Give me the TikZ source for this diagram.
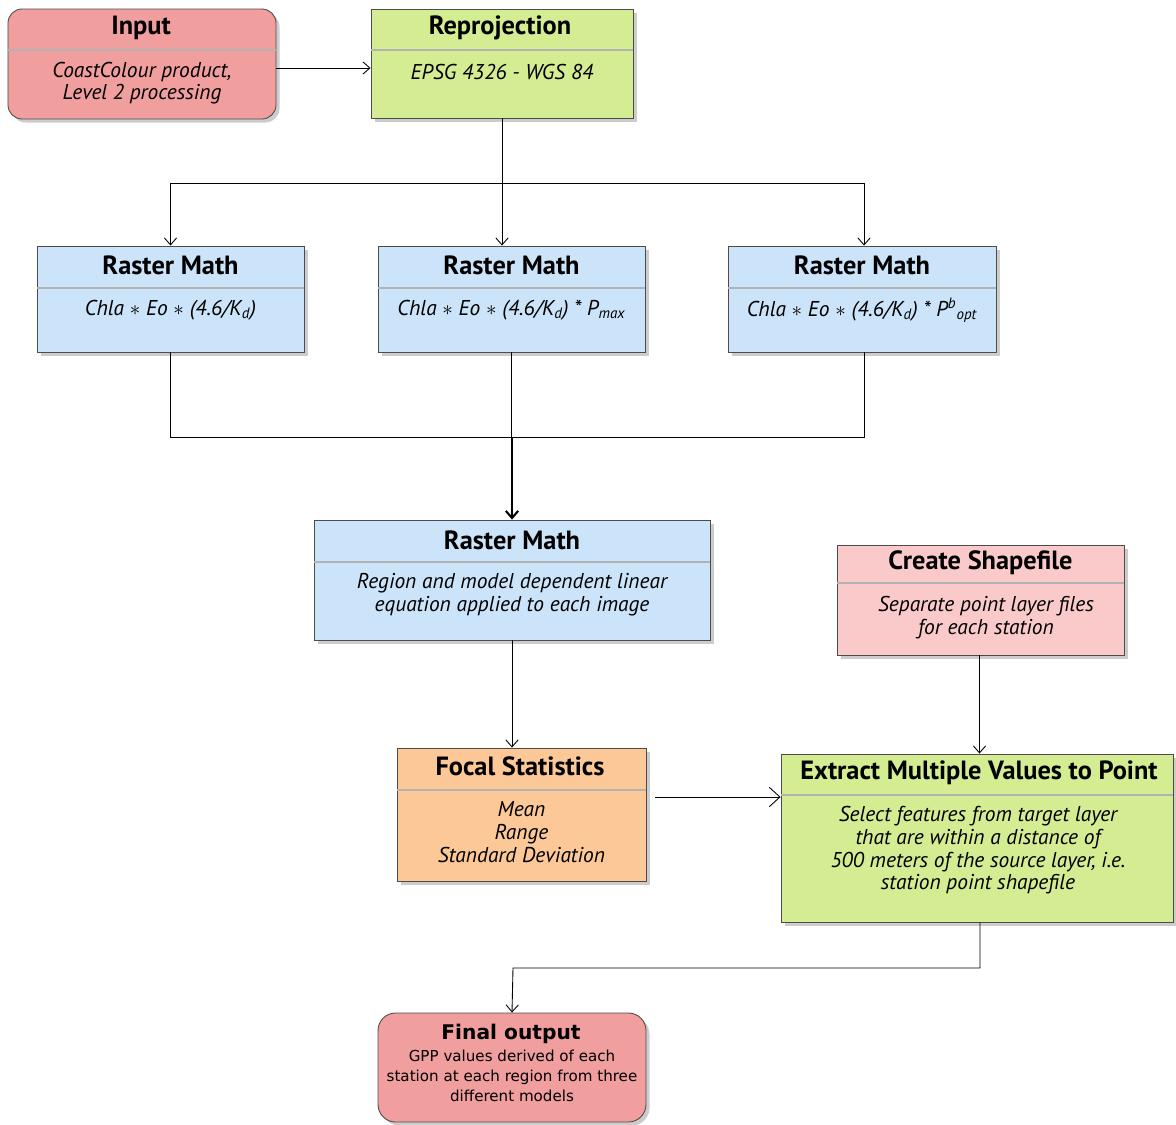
\documentclass[tikz,border=0pt]{standalone}
\usepackage{fontspec}
\setmainfont{PT Sans}
\newfontfamily\dejavu{DejaVu Sans}
\usetikzlibrary{shadows,arrows.meta}

\definecolor{inred}{RGB}{240,158,158}
\definecolor{repgreen}{RGB}{212,236,146}
\definecolor{mathblue}{RGB}{204,228,250}
\definecolor{shppink}{RGB}{250,202,202}
\definecolor{focorange}{RGB}{252,200,152}

\begin{document}
\begin{tikzpicture}[>={Straight Barb[length=4pt,width=7pt]}, line width=0.5pt,
    box/.style={draw=black!70, line width=0.5pt, inner sep=0pt,
        drop shadow={shadow xshift=0.07cm, shadow yshift=-0.07cm, fill=black!40}},
    heading/.style={font=\fontsize{15}{17}\selectfont\bfseries},
    body/.style={font=\fontsize{12.2}{12.9}\selectfont\itshape, align=center},
    sep/.style={draw=black!30, line width=0.6pt}]
    \useasboundingbox (0,0) rectangle (23.52,-22.48);

    % boxes
    \node[box, fill=inred, rounded corners=8pt, minimum width=5.36cm, minimum height=2.2cm] (input) at (2.84,-1.28) {};
    \node[box, fill=repgreen, minimum width=5.24cm, minimum height=2.18cm] (reproj) at (10.04,-1.27) {};
    \node[box, fill=mathblue, minimum width=5.34cm, minimum height=2.12cm] (rm1) at (3.41,-5.98) {};
    \node[box, fill=mathblue, minimum width=5.34cm, minimum height=2.12cm] (rm2) at (10.23,-5.98) {};
    \node[box, fill=mathblue, minimum width=5.36cm, minimum height=2.12cm] (rm3) at (17.24,-5.98) {};
    \node[box, fill=mathblue, minimum width=7.92cm, minimum height=2.4cm] (rm4) at (10.24,-11.6) {};
    \node[box, fill=shppink, minimum width=5.74cm, minimum height=2.2cm] (shape) at (19.61,-12.0) {};
    \node[box, fill=focorange, minimum width=4.98cm, minimum height=2.66cm] (focal) at (10.43,-16.29) {};
    \node[box, fill=repgreen, minimum width=7.84cm, minimum height=3.36cm] (extract) at (19.54,-16.76) {};
    \node[box, fill=inred, rounded corners=10pt, minimum width=5.36cm, minimum height=2.18cm] (final) at (10.24,-21.35) {};

    % header lines
    \draw[sep] (input.west |- 0,-1.0) -- (input.east |- 0,-1.0);
    \draw[sep] (reproj.west |- 0,-1.0) -- (reproj.east |- 0,-1.0);
    \draw[sep] (rm1.west |- 0,-5.76) -- (rm1.east |- 0,-5.76);
    \draw[sep] (rm2.west |- 0,-5.76) -- (rm2.east |- 0,-5.76);
    \draw[sep] (rm3.west |- 0,-5.76) -- (rm3.east |- 0,-5.76);
    \draw[sep] (rm4.west |- 0,-11.24) -- (rm4.east |- 0,-11.24);
    \draw[sep] (shape.west |- 0,-11.66) -- (shape.east |- 0,-11.66);
    \draw[sep] (focal.west |- 0,-15.8) -- (focal.east |- 0,-15.8);
    \draw[sep] (extract.west |- 0,-15.9) -- (extract.east |- 0,-15.9);

    % texts
    \node[heading] (input-t) at (2.82,-0.56) {Input};
    \node[body] (input-b) at (2.84,-1.66) {CoastColour product,\\Level 2 processing};
    \node[heading] (reproj-t) at (10.0,-0.56) {Reprojection};
    \node[body] (reproj-b) at (10.04,-1.44) {EPSG 4326 - WGS 84};
    \node[heading] (rm1-t) at (3.41,-5.3) {Raster Math};
    \node[body] (rm1-b) at (3.41,-6.2) {Chla $\ast$ Eo $\ast$ (4.6/K\textsubscript{d})};
    \node[heading] (rm2-t) at (10.23,-5.3) {Raster Math};
    \node[body] (rm2-b) at (10.23,-6.2) {Chla $\ast$ Eo $\ast$ (4.6/K\textsubscript{d}) * P\textsubscript{max}};
    \node[heading] (rm3-t) at (17.24,-5.3) {Raster Math};
    \node[body] (rm3-b) at (17.24,-6.2) {Chla $\ast$ Eo $\ast$ (4.6/K\textsubscript{d}) * P\textsuperscript{b}\textsubscript{opt}};
    \node[heading] (rm4-t) at (10.24,-10.8) {Raster Math};
    \node[body] (rm4-b) at (10.24,-11.9) {Region and model dependent linear\\equation applied to each image};
    \node[heading] (shape-t) at (19.61,-11.26) {Create Shapefile};
    \node[body] (shape-b) at (19.72,-12.35) {Separate point layer files\\for each station};
    \node[heading] (focal-t) at (10.4,-15.32) {Focal Statistics};
    \node[body] (focal-b) at (10.43,-16.64) {Mean\\Range\\Standard Deviation};
    \node[heading] (extract-t) at (19.58,-15.46) {Extract Multiple Values to Point};
    \node[body] (extract-b) at (19.56,-17.01) {Select features from target layer\\that are within a distance of\\500 meters of the source layer, i.e.\\station point shapefile};
    \node[font=\dejavu\fontsize{11.5}{13}\selectfont\bfseries] (final-t) at (10.22,-20.68) {Final output};
    \node[font=\dejavu\fontsize{8.6}{11.3}\selectfont, align=center] (final-b) at (10.24,-21.52) {GPP values derived of each\\station at each region from three\\different models};

    % connectors
    \coordinate (split) at (10.04,-3.66);
    \coordinate (merge) at (10.24,-8.74);
    \coordinate (join) at (10.26,-19.36);
    \draw[->] ([yshift=-0.08cm]input.east) -- ([yshift=-0.08cm]input.east -| reproj.west);
    \draw (reproj.south) -- (split);
    \draw[->] (split) -| (rm1.north);
    \draw[->] (split) -- (split |- rm2.north);
    \draw[->] (split) -| ([xshift=0.04cm]rm3.north);
    \draw (rm1.south) |- (merge);
    \draw ([xshift=0.04cm]rm3.south) |- (merge);
    \draw (rm2.south) -- (rm2.south |- merge);
    \draw[->, line width=1.2pt] (merge) -- (rm4.north);
    \draw[->] (rm4.south) -- (rm4.south |- focal.north);
    \draw[->] ([xshift=-0.02cm]shape.south) -- ([xshift=-0.02cm]shape.south |- extract.north);
    \draw[-{Straight Barb[length=6pt,width=11pt]}] ([xshift=0.18cm,yshift=0.35cm]focal.east) -- ([yshift=0.35cm]focal.east -| extract.west);
    \draw[->] ([xshift=0.06cm]extract.south) |- (join) -- (final.north);
\end{tikzpicture}
\end{document}
